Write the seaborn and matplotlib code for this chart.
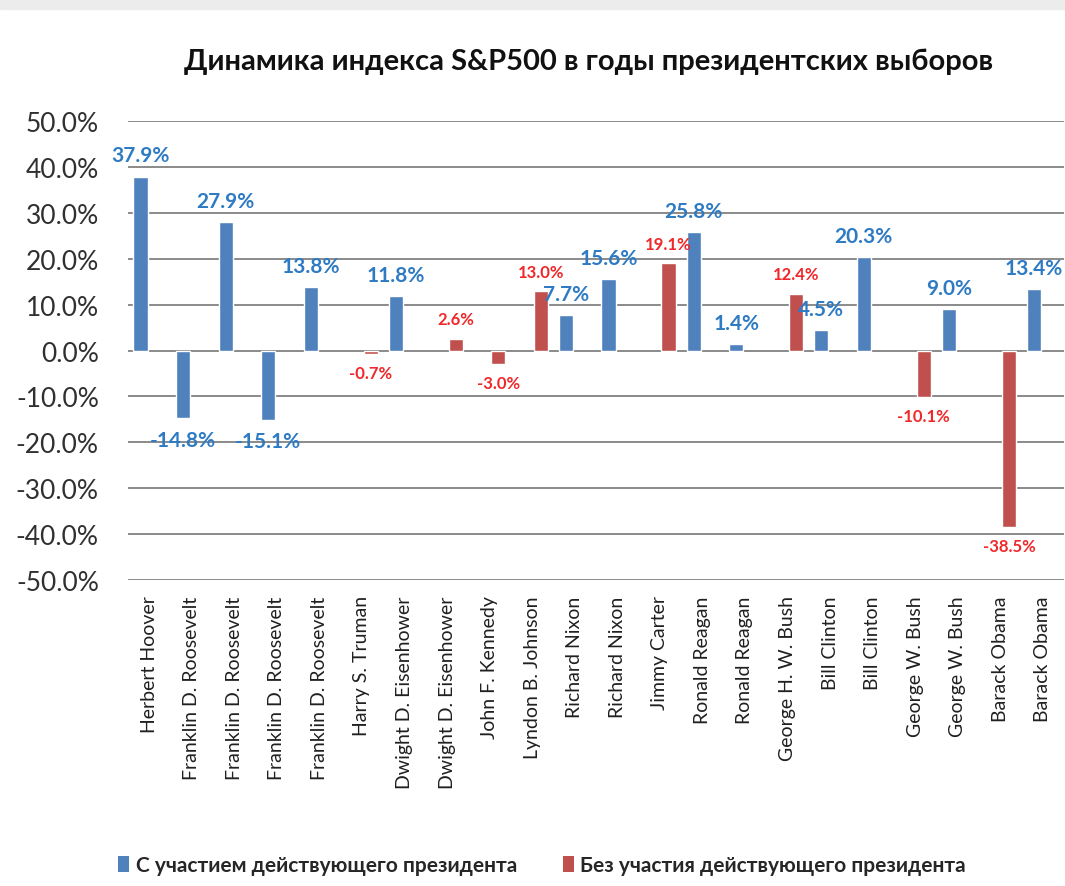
import matplotlib
matplotlib.use("Agg")
import matplotlib.pyplot as plt
import seaborn as sns
import pandas as pd
from matplotlib.patches import Patch, Rectangle

# ---------------- data ----------------
presidents = [
    "Herbert Hoover", "Franklin D. Roosevelt", "Franklin D. Roosevelt",
    "Franklin D. Roosevelt", "Franklin D. Roosevelt", "Harry S. Truman",
    "Dwight D. Eisenhower", "Dwight D. Eisenhower", "John F. Kennedy",
    "Lyndon B. Johnson", "Richard Nixon", "Richard Nixon", "Jimmy Carter",
    "Ronald Reagan", "Ronald Reagan", "George H. W. Bush", "Bill Clinton",
    "Bill Clinton", "George W. Bush", "George W. Bush", "Barack Obama",
    "Barack Obama",
]
series_names = ["С участием действующего президента",
                "Без участия действующего президента"]
# 0 = incumbent running (blue), 1 = no incumbent (red)
series_index = [0, 0, 0, 0, 0, 1, 0, 1, 1, 1, 0, 0, 1, 0, 0, 1, 0, 0, 1, 0, 1, 0]
returns_pct = [37.9, -14.8, 27.9, -15.1, 13.8, -0.7, 11.8, 2.6, -3.0, 13.0,
               7.7, 15.6, 19.1, 25.8, 1.4, 12.4, 4.5, 20.3, -10.1, 9.0,
               -38.5, 13.4]
y_ticks = [-50, -40, -30, -20, -10, 0, 10, 20, 30, 40, 50]
title = "Динамика индекса S&P500 в годы президентских выборов"

bar_colors = ["#4F81BD", "#C0504D"]
label_colors = ["#2E7BC4", "#F0282A"]

# --------------- figure ---------------
sns.set_style("white")
plt.rcParams["font.family"] = ["Lato", "Open Sans", "DejaVu Sans"]

W, H = 1065, 887
fig = plt.figure(figsize=(W / 100, H / 100), dpi=100)
fig.patches.append(Rectangle((0, 1 - 10 / H), 1, 10 / H,
                             transform=fig.transFigure, color="#ececec",
                             zorder=0))

ax = fig.add_axes([128 / W, 1 - 581 / H, (1064 - 128) / W, (581 - 122) / H])

df = pd.DataFrame({
    "pos": list(range(len(presidents))),
    "series": [series_names[i] for i in series_index],
    "value": returns_pct,
})

sns.barplot(data=df, x="pos", y="value", hue="series",
            order=list(range(len(presidents))), hue_order=series_names,
            palette=bar_colors, dodge=True, width=0.82, gap=0.19,
            errorbar=None, saturation=1, legend=False, ax=ax, zorder=3)

for cont, col, fs in zip(ax.containers, label_colors, [15, 12]):
    ax.bar_label(cont, fmt="{:.1f}%", padding=8, color=col,
                 fontsize=fs, fontweight="bold")

ax.set_ylim(-50, 50)
ax.set_yticks(y_ticks)
ax.set_yticklabels([f"{v:.1f}%" for v in y_ticks], fontsize=19,
                   color="#303030")
ax.set_xticks(range(len(presidents)))
ax.set_xticklabels(presidents, rotation=90, fontsize=14, color="#202020")
ax.set_xlabel("")
ax.set_ylabel("")
ax.tick_params(axis="both", length=0)
ax.tick_params(axis="y", pad=21)
ax.tick_params(axis="x", pad=11)
for s in ax.spines.values():
    s.set_visible(False)
ax.yaxis.grid(True, color="#8a8a8a", linewidth=1.4, zorder=1)
ax.xaxis.grid(False)
ax.set_axisbelow(True)

fig.text(589 / W, 1 - 62 / H, title, ha="center", va="center",
         fontsize=21, fontweight="bold", color="#111111")

handles = [Patch(facecolor=c, edgecolor="none") for c in bar_colors]
fig.legend(handles, series_names, loc="center",
           bbox_to_anchor=(542 / W, 1 - 866 / H), ncol=2, frameon=False,
           handlelength=0.55, handleheight=0.8, handletextpad=0.3,
           columnspacing=2.2, prop={"size": 15, "weight": "bold"})

fig.savefig("out.png", dpi=100, facecolor="white")
